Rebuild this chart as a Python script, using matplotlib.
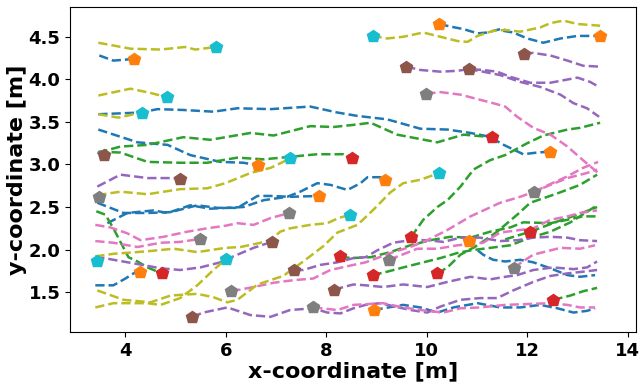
import matplotlib
matplotlib.use("Agg")
import matplotlib.pyplot as plt

# line colour -> marker colour (tab10 pairs)
LINE_MARK = {
    "blue": ("#1f77b4", "#ff7f0e"),
    "green": ("#2ca02c", "#d62728"),
    "purple": ("#9467bd", "#8c564b"),
    "pink": ("#e377c2", "#7f7f7f"),
    "olive": ("#bcbd22", "#17becf"),
}

# --- blue trajectories (orange markers) ---
blue_x = [
    [3.48, 3.76, 4.18],
    [3.46, 4.30, 4.64, 5.15, 5.75, 6.23, 6.89, 7.68, 8.22, 8.62, 9.21, 9.87, 10.41, 10.87, 11.30, 11.46, 11.92, 12.20, 12.46],
    [3.46, 4.24, 4.84, 5.29, 5.89, 6.35, 6.63],
    [3.44, 3.96, 4.44, 4.90, 5.43, 5.83, 6.23, 6.63, 6.89, 7.28, 7.86],
    [3.64, 4.04, 4.56, 4.84, 5.29, 5.69, 6.35, 6.75, 7.22, 7.48, 7.82, 8.08, 8.42, 8.68, 8.82, 9.13, 9.17],
    [3.40, 3.76, 4.00, 4.16, 4.28],
    [8.94, 9.53, 9.87, 10.21, 10.53, 11.01, 11.46, 11.86, 12.26, 12.60, 12.92, 13.19, 13.35],
    [10.83, 10.93, 11.12, 11.32, 11.56, 11.86, 12.12, 12.46, 12.80, 13.05, 13.35],
    [10.25, 10.47, 10.73, 11.01, 11.20, 11.46, 11.56],
    [11.52, 11.72, 12.00, 12.32, 12.66, 13.00, 13.45],
]
blue_y = [
    [4.28, 4.22, 4.24],
    [3.59, 3.61, 3.65, 3.64, 3.62, 3.66, 3.65, 3.68, 3.61, 3.57, 3.53, 3.42, 3.41, 3.37, 3.32, 3.25, 3.12, 3.14, 3.15],
    [3.41, 3.26, 3.23, 3.11, 3.03, 3.02, 2.99],
    [2.55, 2.43, 2.43, 2.44, 2.52, 2.49, 2.49, 2.63, 2.63, 2.62, 2.63],
    [2.31, 2.43, 2.46, 2.43, 2.52, 2.48, 2.50, 2.58, 2.62, 2.68, 2.78, 2.76, 2.70, 2.78, 2.85, 2.85, 2.82],
    [1.58, 1.58, 1.66, 1.72, 1.74],
    [1.29, 1.35, 1.32, 1.26, 1.32, 1.37, 1.32, 1.32, 1.35, 1.31, 1.26, 1.28, 1.31],
    [2.10, 2.03, 1.94, 1.88, 1.86, 1.88, 1.85, 1.78, 1.70, 1.68, 1.70],
    [4.65, 4.62, 4.59, 4.54, 4.55, 4.59, 4.58],
    [4.57, 4.55, 4.48, 4.43, 4.48, 4.51, 4.51],
]
orange_x = [4.18, 12.46, 6.63, 7.86, 9.17, 4.28, 8.94, 10.83, 10.25, 13.45]
orange_y = [4.24, 3.15, 2.99, 2.63, 2.82, 1.74, 1.29, 2.10, 4.65, 4.51]

# --- green trajectories (red markers) ---
green_x = [
    [3.46, 3.90, 4.44, 5.15, 5.69, 6.49, 6.95, 7.68, 8.14, 8.62, 8.88, 9.41, 10.21, 10.73, 11.30],
    [3.46, 3.90, 4.44, 5.09, 5.63, 6.23, 6.75, 7.28, 7.82, 8.34, 8.52],
    [3.42, 3.60, 3.76, 3.90, 4.06, 4.24, 4.44, 4.72],
    [8.28, 8.48, 8.88, 9.27, 9.67, 10.07, 10.47, 10.87, 11.26, 11.66, 11.92, 12.46, 12.80, 13.11, 13.39],
    [8.92, 9.21, 9.53, 9.93, 10.27, 10.61, 10.87, 11.26, 11.66, 12.06, 12.46, 12.86, 13.39],
    [10.21, 10.41, 10.67, 11.01, 11.40, 11.80, 12.06, 12.60, 13.05, 13.39],
    [9.69, 9.93, 10.21, 10.41, 10.67, 10.93, 11.26, 11.56, 12.00, 12.32, 12.80, 13.05, 13.45],
    [12.52, 12.86, 13.11, 13.39],
    [11.56, 12.06, 12.60, 13.05, 13.39],
]
green_y = [
    [3.14, 3.21, 3.23, 3.32, 3.29, 3.37, 3.34, 3.45, 3.44, 3.47, 3.49, 3.35, 3.26, 3.35, 3.32],
    [3.15, 3.14, 3.03, 3.02, 3.02, 3.08, 3.06, 3.09, 3.12, 3.12, 3.08],
    [2.45, 2.41, 2.25, 2.09, 1.91, 1.86, 1.79, 1.72],
    [1.92, 1.90, 1.91, 1.97, 2.05, 2.11, 2.15, 2.14, 2.21, 2.26, 2.32, 2.31, 2.35, 2.39, 2.39],
    [1.70, 1.74, 1.79, 1.85, 1.90, 1.96, 1.99, 2.02, 2.05, 2.14, 2.21, 2.32, 2.52],
    [1.72, 1.79, 1.94, 2.05, 2.21, 2.41, 2.55, 2.66, 2.76, 2.88],
    [2.15, 2.35, 2.50, 2.58, 2.74, 2.94, 3.05, 3.11, 3.25, 3.34, 3.41, 3.43, 3.49],
    [1.41, 1.46, 1.51, 1.55],
    [2.12, 2.21, 2.33, 2.42, 2.50],
]
red_x = [11.30, 8.52, 4.72, 8.28, 8.92, 10.21, 9.69, 12.52, 12.06]
red_y = [3.32, 3.08, 1.72, 1.92, 1.70, 1.72, 2.15, 1.41, 2.21]

# --- purple trajectories (brown markers) ---
purple_x = [
    [3.44, 3.58],
    [3.44, 3.90, 4.44, 4.90, 5.09],
    [3.40, 3.76, 4.24, 4.70, 5.09, 5.49, 5.89, 6.15, 6.55, 6.91],
    [7.36, 7.54, 7.88, 8.22, 8.54, 8.78, 9.01, 9.33, 9.67, 10.01, 10.33, 10.67, 11.06, 11.46, 11.80, 12.12, 12.46, 12.80, 13.05, 13.39],
    [8.16, 8.28, 8.54, 8.78, 9.13, 9.53, 10.01, 10.41, 10.87, 11.26, 11.56, 11.80, 12.12, 12.52, 12.92, 13.19, 13.39],
    [5.33, 5.55, 6.03, 6.49, 6.89, 7.28, 7.74, 8.02, 8.28, 8.54, 8.78, 9.07, 9.67, 10.01, 10.27, 10.67, 11.06, 11.40, 11.72, 12.12, 12.46, 12.80, 13.11, 13.39],
    [9.59, 9.87, 10.27, 10.61, 10.83, 11.12, 11.40, 11.66, 12.06, 12.46, 13.00, 13.25, 13.43],
    [10.83, 11.12, 11.46, 11.86, 12.26, 12.66, 12.92, 13.19, 13.43],
    [11.94, 12.12, 12.46, 12.80, 13.11, 13.41],
]
purple_y = [
    [3.14, 3.11],
    [2.74, 2.88, 2.84, 2.84, 2.83],
    [1.92, 1.88, 1.83, 1.78, 1.76, 1.79, 1.85, 1.92, 2.02, 2.09],
    [1.76, 1.76, 1.82, 1.85, 1.90, 1.91, 1.99, 2.08, 2.11, 2.11, 2.09, 2.14, 2.14, 2.10, 2.11, 2.14, 2.15, 2.14, 2.11, 2.10],
    [1.52, 1.55, 1.59, 1.58, 1.56, 1.59, 1.56, 1.62, 1.68, 1.65, 1.68, 1.70, 1.76, 1.79, 1.77, 1.79, 1.86],
    [1.21, 1.26, 1.32, 1.23, 1.21, 1.29, 1.31, 1.26, 1.25, 1.31, 1.35, 1.37, 1.29, 1.26, 1.33, 1.41, 1.43, 1.43, 1.52, 1.62, 1.69, 1.72, 1.74, 1.76],
    [4.15, 4.11, 4.09, 4.10, 4.12, 4.11, 4.09, 4.03, 3.96, 3.96, 4.02, 3.97, 3.91],
    [4.12, 4.09, 4.05, 3.97, 3.91, 3.82, 3.72, 3.66, 3.56],
    [4.30, 4.31, 4.28, 4.22, 4.16, 4.15],
]
brown_x = [3.58, 5.09, 6.91, 7.36, 8.16, 5.33, 9.59, 10.83, 11.94]
brown_y = [3.11, 2.83, 2.09, 1.76, 1.52, 1.21, 4.15, 4.12, 4.30]

# --- pink trajectories (gray markers) ---
pink_x = [
    [3.42, 3.48],
    [3.40, 3.76, 4.24, 4.70, 5.09, 5.43, 5.49],
    [3.40, 3.70, 4.04, 4.30, 4.76, 5.23, 5.63, 5.99, 6.23, 6.55, 6.89, 7.26],
    [6.11, 6.55, 6.95, 7.34, 7.74, 8.08, 8.54, 8.78, 9.33, 9.67, 10.01, 10.41, 10.87, 11.46, 11.86, 12.14, 12.46, 12.80, 13.19, 13.39],
    [7.74, 8.22, 8.54, 9.13, 9.53, 9.87, 10.33, 10.67, 11.06, 11.56, 12.46, 12.80, 13.05, 13.35],
    [9.25, 9.81, 10.21, 10.61, 11.12, 11.46, 11.86, 12.12, 12.46, 12.80, 13.05, 13.39],
    [9.99, 10.27, 10.67, 10.93, 11.32, 11.56, 11.80, 12.12, 12.46, 12.80, 13.11, 13.41],
    [11.74, 11.86, 12.12, 12.46, 12.66, 13.05, 13.35],
    [12.14, 12.46, 12.80, 13.11, 13.41],
]
pink_y = [
    [2.60, 2.62],
    [2.10, 2.08, 2.03, 2.08, 2.09, 2.12, 2.12],
    [2.29, 2.26, 2.19, 2.11, 2.15, 2.21, 2.25, 2.28, 2.31, 2.29, 2.37, 2.43],
    [1.51, 1.56, 1.61, 1.64, 1.66, 1.76, 1.82, 1.85, 1.97, 2.03, 2.11, 2.23, 2.39, 2.55, 2.62, 2.68, 2.76, 2.84, 2.90, 2.94],
    [1.32, 1.29, 1.35, 1.37, 1.32, 1.29, 1.26, 1.31, 1.32, 1.35, 1.37, 1.35, 1.32, 1.32],
    [1.88, 2.01, 2.01, 2.05, 2.08, 2.20, 2.23, 2.25, 2.35, 2.39, 2.43, 2.46],
    [3.83, 3.85, 3.82, 3.78, 3.72, 3.68, 3.56, 3.43, 3.35, 3.21, 3.05, 2.90],
    [1.78, 1.84, 1.94, 1.99, 2.02, 2.01, 2.05],
    [2.68, 2.77, 2.86, 2.96, 3.03],
]
gray_x = [3.48, 5.49, 7.26, 6.11, 7.74, 9.25, 9.99, 11.74, 12.14]
gray_y = [2.62, 2.12, 2.43, 1.51, 1.32, 1.88, 3.83, 1.78, 2.68]

# --- olive trajectories (cyan markers) ---
olive_x = [
    [3.46, 4.10, 4.70, 5.19, 5.39, 5.81],
    [3.46, 4.10, 4.50, 4.82],
    [3.46, 3.86, 4.32],
    [3.44, 3.90, 4.44, 5.09, 5.63, 5.99, 6.49, 6.89, 7.14, 7.28],
    [3.40, 3.76, 4.44, 4.96, 5.43, 5.99, 6.29, 6.69, 6.89, 7.08, 7.28, 7.68, 8.02, 8.24, 8.48],
    [3.40, 3.76, 4.44, 4.70, 5.09, 5.43, 5.75, 6.01],
    [3.44, 3.96, 4.50, 4.90, 5.43, 5.75, 6.03, 6.23, 6.63, 7.14, 7.54, 7.94, 8.22, 8.62, 8.94, 9.27, 9.53, 9.87, 10.25],
    [8.92, 9.21, 9.53, 9.93, 10.27, 10.61, 10.81, 11.01, 11.32, 11.56, 11.86, 12.26, 12.46, 12.72, 13.00, 13.45],
    [3.40, 3.44],
]
olive_y = [
    [4.43, 4.36, 4.35, 4.38, 4.35, 4.38],
    [3.81, 3.89, 3.84, 3.79],
    [3.59, 3.55, 3.61],
    [2.64, 2.68, 2.65, 2.71, 2.72, 2.78, 2.90, 2.96, 3.03, 3.08],
    [1.92, 1.95, 1.98, 2.01, 1.97, 2.02, 2.03, 2.08, 2.11, 2.21, 2.25, 2.29, 2.31, 2.37, 2.41],
    [1.32, 1.37, 1.37, 1.35, 1.43, 1.58, 1.76, 1.89],
    [1.52, 1.41, 1.38, 1.46, 1.48, 1.44, 1.38, 1.41, 1.59, 1.69, 1.86, 2.04, 2.20, 2.29, 2.47, 2.67, 2.78, 2.82, 2.90],
    [4.51, 4.48, 4.50, 4.55, 4.50, 4.45, 4.44, 4.51, 4.57, 4.58, 4.56, 4.61, 4.66, 4.69, 4.65, 4.63],
    [1.88, 1.87],
]
cyan_x = [5.81, 4.82, 4.32, 7.28, 8.48, 6.01, 10.25, 8.92, 3.44]
cyan_y = [4.38, 3.79, 3.61, 3.08, 2.41, 1.89, 2.90, 4.51, 1.87]

groups = [
    ("blue", blue_x, blue_y, orange_x, orange_y),
    ("green", green_x, green_y, red_x, red_y),
    ("purple", purple_x, purple_y, brown_x, brown_y),
    ("pink", pink_x, pink_y, gray_x, gray_y),
    ("olive", olive_x, olive_y, cyan_x, cyan_y),
]

fig = plt.figure(figsize=(6.44, 3.88), dpi=100)
ax = fig.add_axes([0.109, 0.144, 0.879, 0.838])

for name, xs, ys, mx, my in groups:
    line_c, mark_c = LINE_MARK[name]
    for tx, ty in zip(xs, ys):
        ax.plot(tx, ty, "--", color=line_c, linewidth=1.8, zorder=2)
    ax.plot(mx, my, "p", color=mark_c, markersize=9, linestyle="none", zorder=3)

ax.set_xlim(2.9, 14.17)
ax.set_ylim(1.03, 4.85)
ax.set_xticks([4, 6, 8, 10, 12, 14])
ax.set_yticks([1.5, 2.0, 2.5, 3.0, 3.5, 4.0, 4.5])
ax.tick_params(labelsize=13)
for lab in ax.get_xticklabels() + ax.get_yticklabels():
    lab.set_fontweight("bold")

ax.set_xlabel("x-coordinate [m]", fontsize=16, fontweight="bold", labelpad=1)
ax.set_ylabel("y-coordinate [m]", fontsize=16, fontweight="bold", labelpad=1)

plt.savefig("out.png", dpi=100)
